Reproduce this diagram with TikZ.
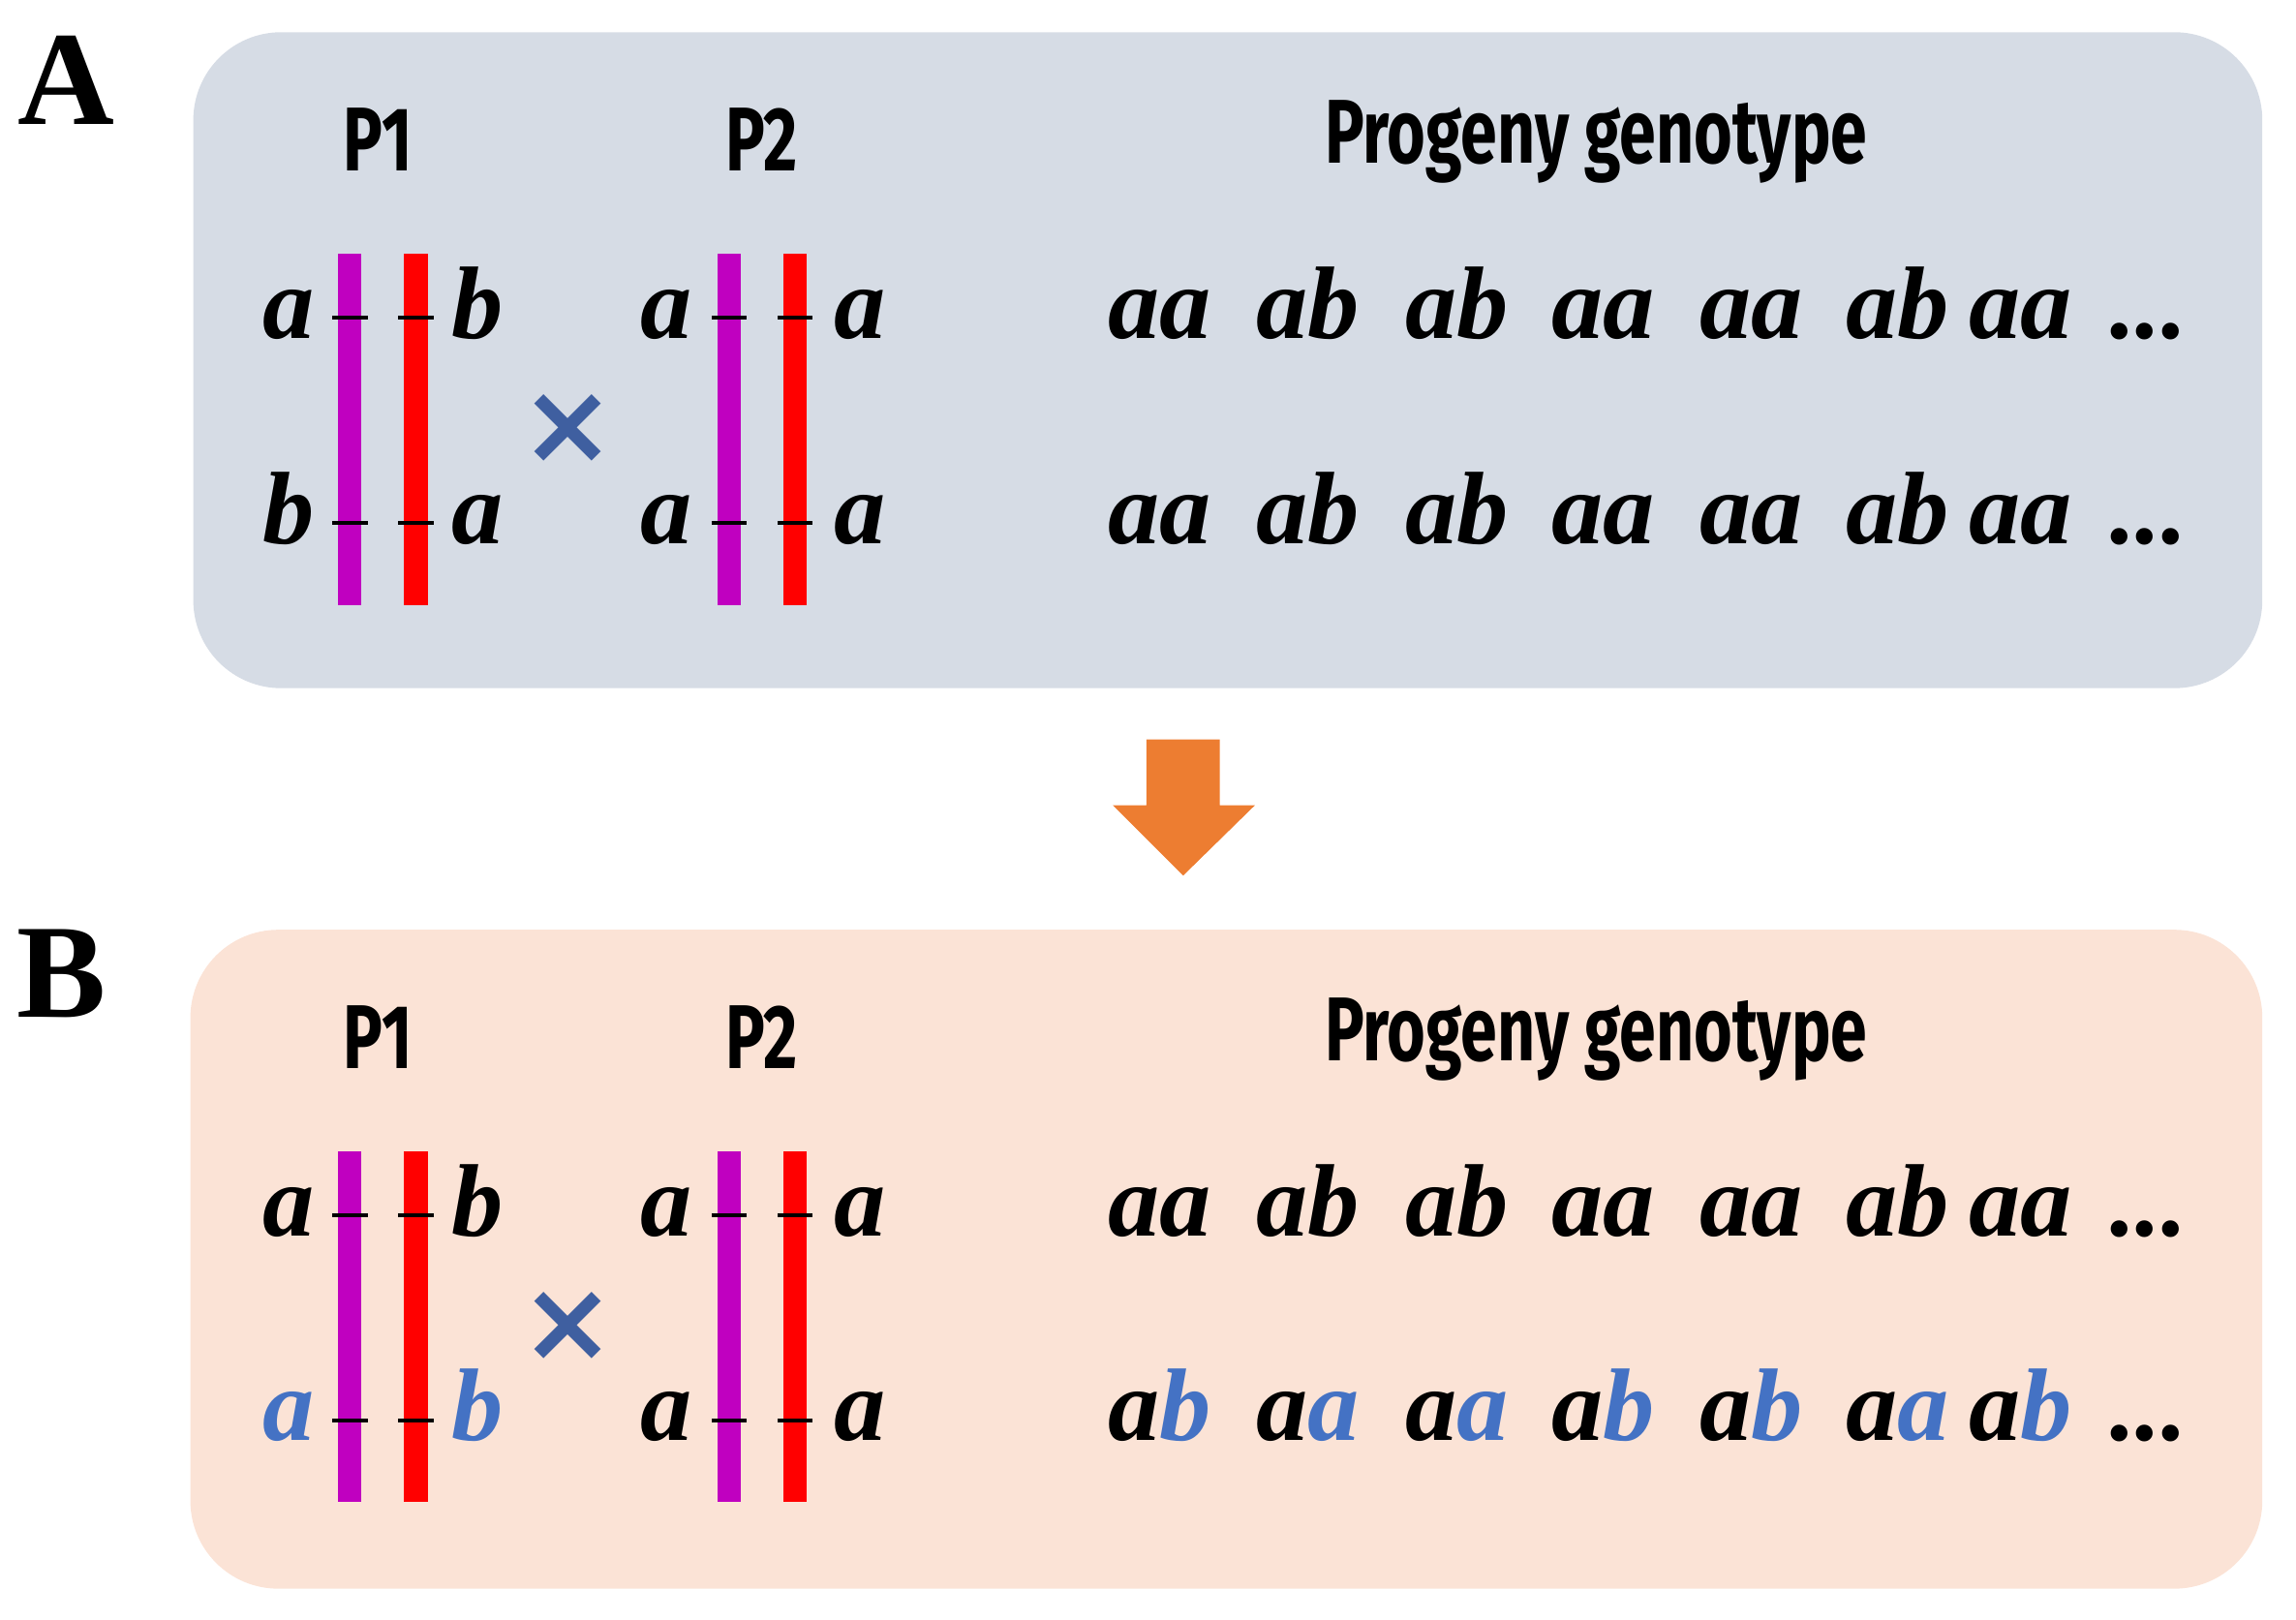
\documentclass[tikz,border=0pt]{standalone}
\usepackage{fontspec}
\setmainfont{Liberation Serif}
\newfontfamily\condfont{Fira Sans}
\newfontfamily\symfont{DejaVu Sans}
\begin{document}
\begin{tikzpicture}[x=0.01cm,y=-0.01cm]
\definecolor{panA}{HTML}{D6DCE5}\definecolor{panB}{HTML}{FBE3D6}
\definecolor{chrP}{HTML}{C000C0}\definecolor{chrR}{HTML}{FF0000}
\definecolor{bl}{HTML}{4472C4}\definecolor{crossc}{HTML}{3F5FA0}
\definecolor{orng}{HTML}{ED7D31}
\tikzset{gt/.style={font=\fontsize{20}{20}\selectfont\bfseries\itshape,anchor=base,yshift=-0.14cm},
 hd/.style={font=\condfont\fontsize{16}{16}\selectfont\bfseries},
 lab/.style={font=\fontsize{26}{26}\selectfont\bfseries},
 tick/.style={black,line width=0.8pt}}
\useasboundingbox (0,0) rectangle (1568,1106);
\fill[panA,rounded corners=0.6cm] (132,22) rectangle (1545,470);
\fill[panB,rounded corners=0.6cm] (130,635) rectangle (1545,1085);
\fill[orng] (783,505) -- (833,505) -- (833,550) -- (857,550) -- (808,598) -- (760,550) -- (783,550) -- cycle;
\node[lab] (A) at (45,55) {A};
\node[lab] (B) at (42,665) {B};
\foreach \dy/\pn in {0/a,613/b}{
 \begin{scope}[yshift=-\dy*0.01cm]
 \node[hd] (p1\pn) at (258,95) {\scalebox{0.8}[1.1]{P1}};
 \node[hd] (p2\pn) at (520,95) {\scalebox{0.8}[1.1]{P2}};
 \node[hd] (pg\pn) at (1090,97) {\scalebox{0.8}[1.1]{Progeny genotype}};
 \foreach \x in {239,498}{\fill[chrP] (\x-8,173) rectangle (\x+8,413);}
 \foreach \x in {284,543}{\fill[chrR] (\x-8,173) rectangle (\x+8,413);}
 \foreach \x in {239,284,498,543}{\foreach \yy in {217,357}{\draw[tick] (\x-12,\yy) -- (\x+12,\yy);}}
 \node[font=\symfont\fontsize{22}{22}\selectfont\bfseries,text=crossc] (x\pn) at (388,293) {×};
 \node[gt] at (197,217) {a}; \node[gt] at (326,217) {b};
 \node[gt] at (455,217) {a}; \node[gt] at (587,217) {a};
 \node[gt] at (455,357) {a}; \node[gt] at (587,357) {a};
 \foreach \x/\w in {792/aa,893/ab,995/ab,1095/aa,1196/aa,1296/ab,1380/aa}{\node[gt] at (\x,217) {\w};}
 \node[gt] at (1465,217) {\upshape...};
 \node[gt] at (1465,357) {\upshape...};
 \end{scope}}
\node[gt] at (197,357) {b}; \node[gt] at (326,357) {a};
\foreach \x/\w in {792/aa,893/ab,995/ab,1095/aa,1196/aa,1296/ab,1380/aa}{\node[gt] at (\x,357) {\w};}
\node[gt,text=bl] at (197,970) {a}; \node[gt,text=bl] at (326,970) {b};
\foreach \x/\w in {792/b,893/a,995/a,1095/b,1196/b,1296/a,1380/b}{\node[gt] at (\x,970) {a\textcolor{bl}{\w}};}
\end{tikzpicture}
\end{document}
